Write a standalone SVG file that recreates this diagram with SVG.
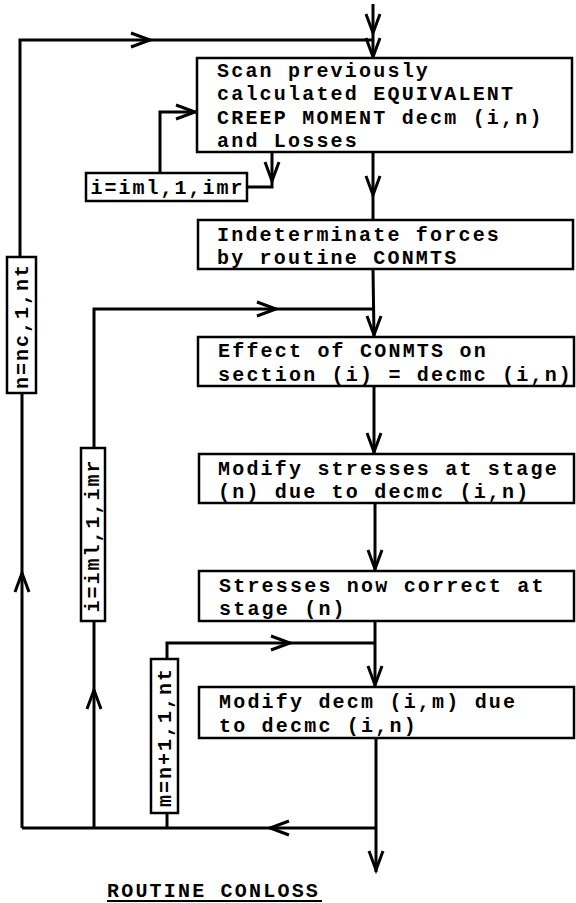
<svg xmlns="http://www.w3.org/2000/svg" xmlns:xlink="http://www.w3.org/1999/xlink" width="576" height="903" viewBox="0 0 576 903">
<style>
.bg{fill:#fff}
.box{fill:#fff;stroke:#000;stroke-width:2.5}
.ln{fill:none;stroke:#000;stroke-width:3;stroke-linejoin:miter}
.ah{fill:none;stroke:#000;stroke-width:3;stroke-linejoin:miter;stroke-linecap:butt}
.t{font-family:"Liberation Mono","Courier New",monospace;font-size:20px;letter-spacing:2.2px;font-weight:bold;fill:#000}
.lbl{font-family:"Liberation Mono","Courier New",monospace;font-size:20px;letter-spacing:2px;font-weight:bold;fill:#000;text-anchor:middle}
</style>
<defs>
<path id="chev" d="M-7,-19 L0,0 L7,-19"/>
</defs>
<rect class="bg" x="0" y="0" width="576" height="903"/>
<g id="connectors">
<path class="ln" d="M373,4 L373,58"/>
<path class="ln" d="M22,828 L22,393"/>
<path class="ln" d="M20,257 L20,40 L373,40"/>
<path class="ln" d="M272,152 L272,187 L247,187"/>
<path class="ln" d="M160,173 L160,112 L197,112"/>
<path class="ln" d="M373,152 L373,220"/>
<path class="ln" d="M94,828 L94,621"/>
<path class="ln" d="M94,448 L94,309 L373,309"/>
<path class="ln" d="M373,269 L374,337"/>
<path class="ln" d="M374,386 L374,454"/>
<path class="ln" d="M375,503 L375,571"/>
<path class="ln" d="M167,828 L167,813"/>
<path class="ln" d="M167,659 L167,643 L375,643"/>
<path class="ln" d="M375,621 L375,687"/>
<path class="ln" d="M376,738 L376,872"/>
<path class="ln" d="M376,828 L22,828"/>
<use class="ah" xlink:href="#chev" transform="translate(373,33)"/>
<use class="ah" xlink:href="#chev" transform="translate(373,57)"/>
<use class="ah" xlink:href="#chev" transform="translate(150,40) rotate(-90)"/>
<use class="ah" xlink:href="#chev" transform="translate(22,573) rotate(180)"/>
<use class="ah" xlink:href="#chev" transform="translate(195,112) rotate(-90)"/>
<use class="ah" xlink:href="#chev" transform="translate(272,181)"/>
<use class="ah" xlink:href="#chev" transform="translate(373,195)"/>
<use class="ah" xlink:href="#chev" transform="translate(276,309) rotate(-90)"/>
<use class="ah" xlink:href="#chev" transform="translate(94,690) rotate(180)"/>
<use class="ah" xlink:href="#chev" transform="translate(374,335)"/>
<use class="ah" xlink:href="#chev" transform="translate(374,452)"/>
<use class="ah" xlink:href="#chev" transform="translate(375,569)"/>
<use class="ah" xlink:href="#chev" transform="translate(290,643) rotate(-90)"/>
<use class="ah" xlink:href="#chev" transform="translate(375,685)"/>
<use class="ah" xlink:href="#chev" transform="translate(376,870)"/>
<use class="ah" xlink:href="#chev" transform="translate(270,828) rotate(90)"/>
</g>
<g id="scan">
<rect class="box" x="197" y="58" width="375" height="94"/>
<text class="t" x="217" y="77">Scan previously</text>
<text class="t" x="217" y="100">calculated EQUIVALENT</text>
<text class="t" x="217" y="124">CREEP MOMENT decm (i,n)</text>
<text class="t" x="217" y="147">and Losses</text>
</g>
<g id="loop-i1">
<rect class="box" x="86" y="173" width="161" height="28"/>
<text class="lbl" x="167.5" y="194">i=iml,1,imr</text>
</g>
<g id="indeterminate">
<rect class="box" x="198" y="220" width="375" height="49"/>
<text class="t" x="217" y="241">Indeterminate forces</text>
<text class="t" x="217" y="264">by routine CONMTS</text>
</g>
<g id="loop-n">
<rect class="box" x="7" y="257" width="29" height="136"/>
<text class="lbl" transform="translate(21.5,326) rotate(-90)" x="0" y="6">n=nc,1,nt</text>
</g>
<g id="effect">
<rect class="box" x="198" y="337" width="376" height="49"/>
<text class="t" x="218" y="357">Effect of CONMTS on</text>
<text class="t" x="218" y="381">section (i) = decmc (i,n)</text>
</g>
<g id="loop-i2">
<rect class="box" x="81" y="448" width="24" height="173"/>
<text class="lbl" transform="translate(93,535.5) rotate(-90)" x="0" y="6">i=iml,1,imr</text>
</g>
<g id="modify-stresses">
<rect class="box" x="199" y="454" width="375" height="49"/>
<text class="t" x="218" y="475">Modify stresses at stage</text>
<text class="t" x="218" y="498">(n) due to decmc (i,n)</text>
</g>
<g id="stresses-correct">
<rect class="box" x="199" y="571" width="375" height="50"/>
<text class="t" x="219" y="592">Stresses now correct at</text>
<text class="t" x="219" y="615">stage (n)</text>
</g>
<g id="loop-m">
<rect class="box" x="151" y="659" width="27" height="154"/>
<text class="lbl" transform="translate(164.5,737) rotate(-90)" x="0" y="6">m=n+1,1,nt</text>
</g>
<g id="modify-decm">
<rect class="box" x="199" y="687" width="375" height="51"/>
<text class="t" x="219" y="708">Modify decm (i,m) due</text>
<text class="t" x="219" y="732">to decmc (i,n)</text>
</g>
<g id="title">
<text class="t" x="107" y="897">ROUTINE CONLOSS</text>
<line x1="107" y1="901" x2="322" y2="901" stroke="#000" stroke-width="2"/>
</g>
</svg>
